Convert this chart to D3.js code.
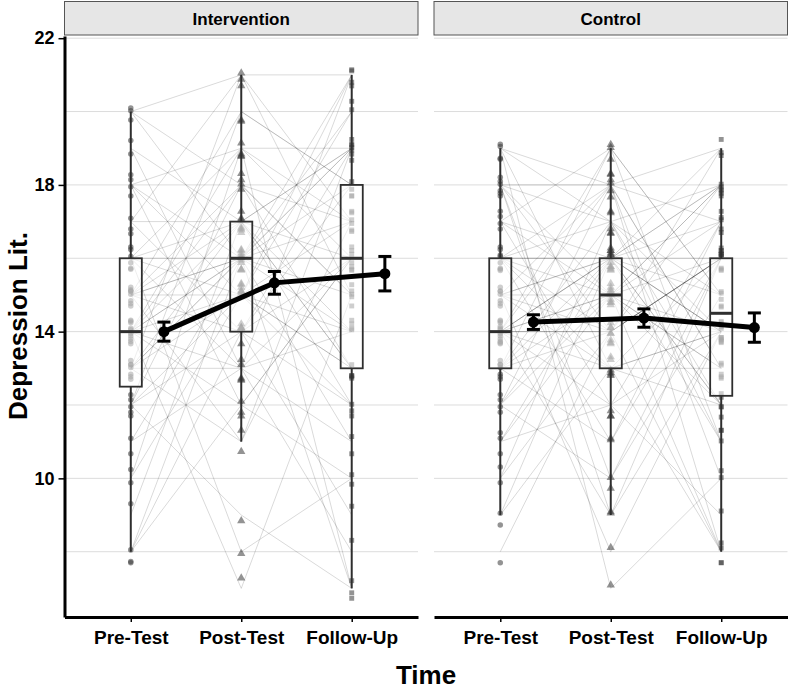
<!DOCTYPE html>
<html><head><meta charset="utf-8">
<script src="https://cdn.jsdelivr.net/npm/d3@7"></script>
<style>
body{margin:0;background:#fff}
svg{display:block}
text{font-family:"Liberation Sans",Arial,sans-serif;font-weight:bold;fill:#000}
</style>
</head><body>
<svg id="chart" width="789" height="691"></svg>
<script>
// ---------- data ----------
const times = ["Pre-Test", "Post-Test", "Follow-Up"];
const groups = ["Intervention", "Control"];
const yTickValues = [10, 14, 18, 22];
const yGridValues = [8, 10, 12, 14, 16, 18, 20, 22];

// individual subject scores (Intervention)
const intPre = [8,8,8,9,10,10,11,11,12,12,12,12,12,13,13,13,13,13,13,13,14,14,14,14,14,14,14,14,14,14,15,15,15,15,15,15,15,15,16,16,16,16,16,16,17,17,17,18,18,18,18,19,19,20,20,20];
const intPost = [14,16,12,17,15,19,13,16,9,18,15,20,14,16,11,17,15,21,13,16,14,17,7,16,18,12,15,19,16,13,17,14,16,20,15,11,18,16,13,17,19,15,8,16,21,14,17,16,12,19,15,17,13,21,18,16];
const intFollow = [12,7,10,19,13,16,21,15,7,17,14,18,9,16,19,13,20,17,11,18,16,12,15,19,13,16,21,17,14,8,16,19,11,18,13,17,15,21,16,14,19,12,10,17,15,18,13,20,16,7,17,19,14,21,15,19];
// individual subject scores (Control)
const ctrlPre = [8,9,9,10,10,11,11,11,12,12,12,12,13,13,13,13,13,13,13,14,14,14,14,14,14,14,14,14,14,14,14,15,15,15,15,15,15,15,16,16,16,16,16,16,16,16,17,17,17,17,18,18,18,18,18,18,19,19,19,19];
const ctrlPost = [14,16,13,17,14,15,12,16,18,10,15,16,14,19,16,11,15,13,17,16,9,15,18,14,16,12,15,13,19,16,14,8,16,15,18,13,16,14,17,11,15,16,13,18,14,16,12,15,19,16,14,17,10,9,18,15,13,18,7,17];
const ctrlFollow = [16,12,14,11,16,18,9,14,13,16,12,19,8,15,14,17,16,12,14,18,16,13,10,16,14,17,8,16,15,11,18,14,16,13,19,14,12,16,15,16,14,18,8,13,16,17,14,17,11,15,19,12,15,14,17,18,13,8,10,18];

// point jitter offsets (display only)
const jitter = [-0.3,-0.27,0.05,0.31,-0.12,0.24,-0.33,0.09,-0.2,0.28,-0.05,0.14,-0.3,0.21,-0.16,0.02,0.1,-0.23,0.11];

// boxplot statistics [group][time]
const boxLower  = [[8, 11, 7], [9, 9, 8]];
const boxQ1     = [[12.5, 14, 13], [13, 13, 12.25]];
const boxMedian = [[14, 16, 16], [14, 15, 14.5]];
const boxQ3     = [[16, 17, 18], [16, 16, 16]];
const boxUpper  = [[20, 21, 21], [19, 19, 19]];

// group means and standard errors [group][time]
const meanValues = [[14.0, 15.33, 15.58], [14.26, 14.37, 14.11]];
const meanSE     = [[0.26, 0.31, 0.47], [0.2, 0.25, 0.4]];

// ---------- drawing ----------
const subjects = [
  [intPre, intPost, intFollow],
  [ctrlPre, ctrlPost, ctrlFollow]
];

const svg = d3.select("#chart");
const panelTop = 36, panelBottom = 617;
const panelX = [[64.5, 418], [434, 787.5]];
const y = d3.scaleLinear().domain([6.22, 22.06]).range([panelBottom, panelTop]);
const symbolTypes = [d3.symbolCircle, d3.symbolTriangle, d3.symbolSquare];
const symbolSizes = [24, 30, 24];

groups.forEach((grp, g) => {
  const [x0, x1] = panelX[g];
  const x = d3.scalePoint().domain(times).range([x0, x1]).padding(0.6);
  const step = x.step();
  const G = svg.append("g");

  // strip
  G.append("rect").attr("x", x0).attr("y", 1.5).attr("width", x1 - x0).attr("height", 33.5)
    .attr("fill", "#e6e6e6").attr("stroke", "#555").attr("stroke-width", 1);
  G.append("text").attr("x", (x0 + x1) / 2).attr("y", 24.5).attr("text-anchor", "middle")
    .attr("font-size", "17px").text(grp);

  // grid
  G.selectAll(".grid").data(yGridValues).enter().append("line")
    .attr("x1", x0).attr("x2", x1).attr("y1", d => y(d)).attr("y2", d => y(d))
    .attr("stroke", "#dcdcdc").attr("stroke-width", 1);

  const [pre, post, fol] = subjects[g];
  const subj = pre.map((v, i) => [pre[i], post[i], fol[i]]);

  // individual trajectories
  const line = d3.line().x((d, t) => x(times[t])).y(d => y(d));
  G.append("g").selectAll("path").data(subj).enter().append("path")
    .attr("d", d => line(d)).attr("fill", "none")
    .attr("stroke", "#000").attr("stroke-opacity", 0.17).attr("stroke-width", 0.9);

  // points
  times.forEach((tm, t) => {
    const sym = d3.symbol().type(symbolTypes[t]).size(symbolSizes[t]);
    G.append("g").selectAll("path").data(subj).enter().append("path")
      .attr("d", sym)
      .attr("transform", (d, i) => `translate(${x(tm)},${y(d[t] + jitter[(i + t * 6) % jitter.length])})`)
      .attr("fill", "#3a3a3a").attr("fill-opacity", 0.55);
  });

  // boxplots
  const bw = 0.2 * step;
  times.forEach((tm, t) => {
    const cx = x(tm);
    const bg = G.append("g").attr("stroke", "#2e2e2e");
    bg.append("line").attr("x1", cx).attr("x2", cx).attr("y1", y(boxUpper[g][t])).attr("y2", y(boxQ3[g][t])).attr("stroke-width", 2);
    bg.append("line").attr("x1", cx).attr("x2", cx).attr("y1", y(boxQ1[g][t])).attr("y2", y(boxLower[g][t])).attr("stroke-width", 2);
    bg.append("rect").attr("x", cx - bw / 2).attr("width", bw)
      .attr("y", y(boxQ3[g][t])).attr("height", y(boxQ1[g][t]) - y(boxQ3[g][t]))
      .attr("fill", "#fff").attr("fill-opacity", 0.55).attr("stroke-width", 1.8);
    bg.append("line").attr("x1", cx - bw / 2).attr("x2", cx + bw / 2)
      .attr("y1", y(boxMedian[g][t])).attr("y2", y(boxMedian[g][t])).attr("stroke-width", 3);
  });

  // means with error bars
  const mx = t => x(times[t]) + 0.3 * step;
  const means = meanValues[g].map((m, t) => ({t, m, se: meanSE[g][t]}));
  G.append("path").attr("d", d3.line().x(d => mx(d.t)).y(d => y(d.m))(means))
    .attr("fill", "none").attr("stroke", "#000").attr("stroke-width", 5);
  const eb = G.append("g").selectAll("g").data(means).enter().append("g").attr("stroke", "#000").attr("stroke-width", 3);
  eb.append("line").attr("x1", d => mx(d.t)).attr("x2", d => mx(d.t)).attr("y1", d => y(d.m - d.se)).attr("y2", d => y(d.m + d.se));
  eb.append("line").attr("x1", d => mx(d.t) - 6.5).attr("x2", d => mx(d.t) + 6.5).attr("y1", d => y(d.m - d.se)).attr("y2", d => y(d.m - d.se));
  eb.append("line").attr("x1", d => mx(d.t) - 6.5).attr("x2", d => mx(d.t) + 6.5).attr("y1", d => y(d.m + d.se)).attr("y2", d => y(d.m + d.se));
  G.append("g").selectAll("circle").data(means).enter().append("circle")
    .attr("cx", d => mx(d.t)).attr("cy", d => y(d.m)).attr("r", 5.5).attr("fill", "#000");

  // bottom axis
  const xa = G.append("g").attr("transform", `translate(0,${panelBottom})`)
    .call(d3.axisBottom(x).tickSize(5).tickSizeOuter(0).tickPadding(9));
  xa.select(".domain").attr("stroke", "#000").attr("stroke-width", 3);
  xa.selectAll(".tick line").attr("stroke", "#000").attr("stroke-width", 1.5);
  xa.selectAll(".tick text").attr("font-size", "19px").attr("font-family", null).attr("fill", "#000");

  if (g === 0) {
    const ya = G.append("g").attr("transform", `translate(${x0},0)`)
      .call(d3.axisLeft(y).tickValues(yTickValues).tickSize(6).tickSizeOuter(0).tickPadding(4).tickFormat(d3.format("d")));
    ya.select(".domain").attr("stroke", "#000").attr("stroke-width", 3);
    ya.selectAll(".tick line").attr("stroke", "#000").attr("stroke-width", 1.5);
    ya.selectAll(".tick text").attr("font-size", "18px").attr("font-family", null).attr("fill", "#000");
  }
});

// axis titles
svg.append("text").attr("x", 426).attr("y", 684).attr("text-anchor", "middle")
  .attr("font-size", "26px").text("Time");
svg.append("text").attr("transform", "translate(18,326) rotate(-90)")
  .attr("text-anchor", "middle").attr("dominant-baseline", "central")
  .attr("font-size", "26px").text("Depression Lit.");
</script>
</body></html>
